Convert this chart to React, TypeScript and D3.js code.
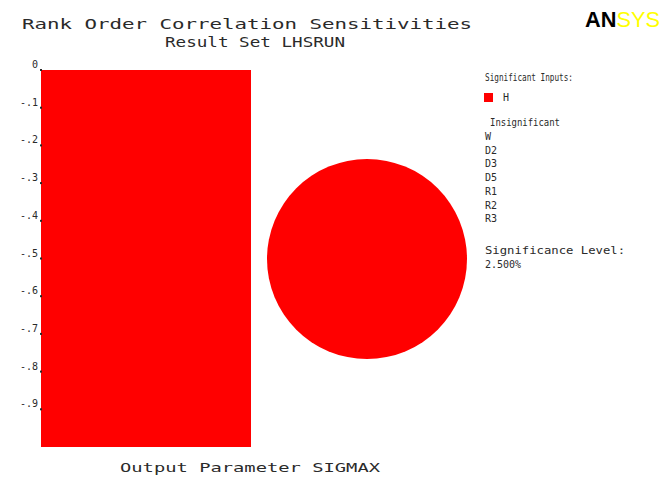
import React from "react";
import * as d3 from "d3";

const titleLines = ["Rank Order Correlation Sensitivities", "Result Set LHSRUN"];
const outputParam = "Output Parameter SIGMAX";
const significantInputs = ["H"];
const significantValues = [-1.0];
const insignificantInputs = ["W", "D2", "D3", "D5", "R1", "R2", "R3"];
const yTicks = [0, -0.1, -0.2, -0.3, -0.4, -0.5, -0.6, -0.7, -0.8, -0.9];
const yTickLabels = ["0", "-.1", "-.2", "-.3", "-.4", "-.5", "-.6", "-.7", "-.8", "-.9"];
const sigLevelLabel = "Significance Level:";
const sigLevelValue = "2.500%";

const W = 671;
const H = 479;
const mono = "'DejaVu Sans Mono', 'Liberation Mono', monospace";
const txt = "#2a2a2a";

export default function App() {
  const y = d3.scaleLinear().domain([0, -1]).range([70, 447]);
  const x = d3.scaleBand<string>().domain(significantInputs).range([41, 251]).padding(0);
  const pie = d3.pie<number>().sort(null).value((d) => Math.abs(d));
  const arcs = pie(significantValues);
  const arc = d3.arc<d3.PieArcDatum<number>>().innerRadius(0).outerRadius(100);

  return (
    <svg width={W} height={H} style={{ position: "absolute", left: 0, top: 0, background: "#fff" }}>
      <rect x={0} y={0} width={W} height={H} fill="#fff" />
      {/* titles */}
      <text x={247} y={29} textAnchor="middle" fontFamily={mono} fontSize={14} fill={txt} textLength={450} lengthAdjust="spacingAndGlyphs">
        {titleLines[0]}
      </text>
      <text x={255} y={47} textAnchor="middle" fontFamily={mono} fontSize={14} fill={txt} textLength={180} lengthAdjust="spacingAndGlyphs">
        {titleLines[1]}
      </text>
      {/* logo */}
      <text x={585} y={27} fontFamily="'Liberation Sans', Arial, sans-serif" fontWeight="bold" fontSize={22} textLength={75} lengthAdjust="spacingAndGlyphs">
        <tspan fill="#000">AN</tspan>
        <tspan fill="#ffff00" fontWeight="normal">SYS</tspan>
      </text>
      {/* bars */}
      {significantInputs.map((name, i) => (
        <rect key={name} x={x(name)} y={y(0)} width={x.bandwidth()} height={y(significantValues[i]) - y(0)} fill="#ff0000" />
      ))}
      {/* y ticks */}
      {yTicks.map((t, i) => (
        <g key={i}>
          <rect x={40} y={y(t) - 1} width={2} height={2} fill={txt} />
          <text x={38} y={y(t) - 2} textAnchor="end" fontFamily={mono} fontSize={10} fill={txt}>
            {yTickLabels[i]}
          </text>
        </g>
      ))}
      {/* x label */}
      <text x={250} y={472} textAnchor="middle" fontFamily={mono} fontSize={13} fill={txt} textLength={260} lengthAdjust="spacingAndGlyphs">
        {outputParam}
      </text>
      {/* pie */}
      <g transform="translate(367,259)">
        {arcs.map((a, i) => (
          <path key={i} d={arc(a) || ""} fill="#ff0000" />
        ))}
      </g>
      {/* legend */}
      <text x={485} y={81} fontFamily={mono} fontSize={10} fill={txt} textLength={88} lengthAdjust="spacingAndGlyphs">Significant Inputs:</text>
      {significantInputs.map((n, i) => (
        <g key={n}>
          <rect x={484} y={93 + i * 14} width={9} height={9} fill="#ff0000" />
          <text x={503} y={101 + i * 14} fontFamily={mono} fontSize={10} fill={txt}>{n}</text>
        </g>
      ))}
      <text x={490} y={126} fontFamily={mono} fontSize={10} fill={txt} textLength={70} lengthAdjust="spacingAndGlyphs">Insignificant</text>
      {insignificantInputs.map((n, i) => (
        <text key={n} x={485} y={140 + i * 13.7} fontFamily={mono} fontSize={10} fill={txt}>{n}</text>
      ))}
      <text x={485} y={254} fontFamily={mono} fontSize={10} fill={txt} textLength={140} lengthAdjust="spacingAndGlyphs">{sigLevelLabel}</text>
      <text x={485} y={268} fontFamily={mono} fontSize={10} fill={txt}>{sigLevelValue}</text>
    </svg>
  );
}
